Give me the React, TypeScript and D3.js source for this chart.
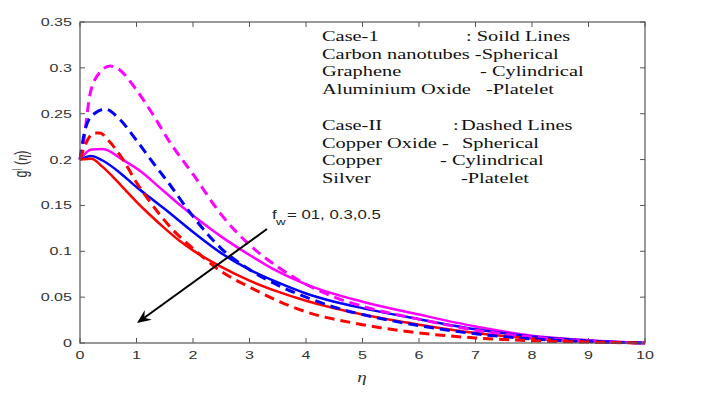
import React from "react";
import * as d3 from "d3";

const xTicks = [0, 1, 2, 3, 4, 5, 6, 7, 8, 9, 10];
const yTicks = [0, 0.05, 0.1, 0.15, 0.2, 0.25, 0.3, 0.35];
const yTickLabels = ["0", "0.05", "0.1", "0.15", "0.2", "0.25", "0.3", "0.35"];

// Case-1 (solid lines), f_w = 0.1, 0.3, 0.5
const solidMagenta: [number, number][] = [[0,0.2],[0.2,0.211],[0.4,0.2115],[0.75,0.2],[1.1,0.186],[1.4,0.170],[1.7,0.154],[2,0.139],[2.5,0.116],[3,0.096],[3.5,0.078],[4,0.064],[5,0.045],[6,0.031],[7,0.018],[8,0.008],[9,0.003],[10,0]];
const solidBlue: [number, number][] = [[0,0.2],[0.2,0.204],[0.4,0.199],[0.7,0.186],[1,0.170],[1.25,0.158],[1.5,0.146],[2,0.121],[2.5,0.098],[3,0.080],[3.5,0.066],[4,0.054],[4.5,0.045],[5,0.038],[6,0.026],[7,0.015],[8,0.007],[9,0.0025],[10,0]];
const solidRed: [number, number][] = [[0,0.2],[0.2,0.201],[0.4,0.192],[0.6,0.180],[0.8,0.167],[1,0.154],[1.25,0.139],[1.5,0.125],[1.75,0.112],[2,0.101],[2.5,0.083],[3,0.068],[3.5,0.056],[4,0.046],[5,0.031],[6,0.020],[7,0.011],[8,0.005],[9,0.0015],[10,0]];

// Case-II (dashed lines), f_w = 0.1, 0.3, 0.5
const dashedMagenta: [number, number][] = [[0,0.2],[0.06,0.218],[0.18,0.272],[0.35,0.295],[0.53,0.302],[0.7,0.298],[0.95,0.28],[1.25,0.253],[1.6,0.218],[2,0.184],[2.5,0.14],[3,0.107],[3.5,0.083],[4,0.064],[4.5,0.050],[5,0.040],[6,0.026],[7,0.014],[8,0.0065],[9,0.002],[10,0]];
const dashedBlue: [number, number][] = [[0,0.2],[0.1,0.235],[0.25,0.25],[0.45,0.255],[0.7,0.244],[1,0.221],[1.3,0.196],[1.55,0.176],[2,0.138],[2.5,0.103],[3,0.080],[3.5,0.063],[4,0.050],[4.5,0.039],[5,0.031],[6,0.019],[7,0.010],[8,0.0045],[9,0.0015],[10,0]];
const dashedRed: [number, number][] = [[0,0.2],[0.1,0.217],[0.25,0.229],[0.35,0.229],[0.5,0.221],[0.75,0.201],[1,0.175],[1.25,0.153],[1.65,0.123],[2,0.103],[2.5,0.078],[3,0.061],[3.5,0.046],[4,0.034],[5,0.020],[6,0.011],[7,0.0055],[8,0.0025],[9,0.001],[10,0]];

const solidSeries = [
  { data: solidMagenta, color: "#ff00ff" },
  { data: solidBlue, color: "#0000ff" },
  { data: solidRed, color: "#ff0000" },
];
const dashedSeries = [
  { data: dashedMagenta, color: "#ff00ff" },
  { data: dashedBlue, color: "#0000ff" },
  { data: dashedRed, color: "#ff0000" },
];

const W = 710, H = 396;
const left = 80, right = 645, top = 22, bottom = 343;
const SANS = "'Liberation Sans', Arial, sans-serif";
const SERIF = "'Liberation Serif', 'Times New Roman', serif";
const SX = 1.4;
const SXS = 1.36;

function SText(props: { x: number; y: number; anchor?: string; size: number; family: string; sx: number; fill?: string; children: any; italic?: boolean }) {
  const { x, y, anchor = "start", size, family, sx, fill = "#222", children, italic } = props;
  return (
    <g transform={`translate(${x},${y}) scale(${sx},1)`}>
      <text textAnchor={anchor} fontSize={size} fontFamily={family} fill={fill} fontStyle={italic ? "italic" : "normal"}>
        {children}
      </text>
    </g>
  );
}

export default function App() {
  const x = d3.scaleLinear().domain([0, 10]).range([left, right]);
  const y = d3.scaleLinear().domain([0, 0.35]).range([bottom, top]);
  const line = d3.line<[number, number]>().x((d) => x(d[0])).y((d) => y(d[1])).curve(d3.curveMonotoneX);

  const axisColor = "#555";
  const tl = 5;

  // arrow
  const ax1 = 267, ay1 = 229, ax2 = 137, ay2 = 323;
  const dx = ax2 - ax1, dy = ay2 - ay1;
  const len = Math.hypot(dx, dy);
  const ux = dx / len, uy = dy / len;
  const px = -uy, py = ux;
  const hl = 14, hw = 6, notch = 9;
  const head = `M${ax2},${ay2} L${ax2 - ux * hl + px * hw},${ay2 - uy * hl + py * hw} L${ax2 - ux * notch},${ay2 - uy * notch} L${ax2 - ux * hl - px * hw},${ay2 - uy * hl - py * hw} Z`;

  const legendLines: { y: number; runs: [number, string][] }[] = [
    { y: 41, runs: [[322, "Case-1"], [466, ": Soild Lines"]] },
    { y: 58.5, runs: [[322, "Carbon nanotubes -Spherical"]] },
    { y: 76, runs: [[322, "Graphene"], [480, "- Cylindrical"]] },
    { y: 94, runs: [[322, "Aluminium Oxide"], [486, "-Platelet"]] },
    { y: 130, runs: [[322, "Case-II"], [453, ":"], [461, "Dashed Lines"]] },
    { y: 147.5, runs: [[322, "Copper Oxide -"], [462, "Spherical"]] },
    { y: 165, runs: [[322, "Copper"], [440, "- Cylindrical"]] },
    { y: 182.5, runs: [[322, "Silver"], [461, "-Platelet"]] },
  ];

  return (
    <svg width={W} height={H} style={{ position: "absolute", left: 0, top: 0, background: "#fff" }}>
      <rect x={0} y={0} width={W} height={H} fill="#fff" />
      {/* ticks */}
      {xTicks.map((t) => (
        <g key={"xt" + t}>
          <line x1={x(t)} x2={x(t)} y1={bottom} y2={bottom - tl} stroke={axisColor} />
          <line x1={x(t)} x2={x(t)} y1={top} y2={top + tl} stroke={axisColor} />
          <SText x={x(t)} y={359} anchor="middle" size={11.5} family={SANS} sx={SX} fill="#333">{String(t)}</SText>
        </g>
      ))}
      {yTicks.map((t, i) => (
        <g key={"yt" + t}>
          <line x1={left} x2={left + tl} y1={y(t)} y2={y(t)} stroke={axisColor} />
          <line x1={right} x2={right - tl} y1={y(t)} y2={y(t)} stroke={axisColor} />
          <SText x={72} y={y(t) + 4} anchor="end" size={11.5} family={SANS} sx={SX} fill="#333">{yTickLabels[i]}</SText>
        </g>
      ))}
      {/* curves */}
      {solidSeries.map((s, i) => (
        <path key={"s" + i} d={line(s.data) || ""} fill="none" stroke={s.color} strokeWidth={2.5} />
      ))}
      {dashedSeries.map((s, i) => (
        <path key={"d" + i} d={line(s.data) || ""} fill="none" stroke={s.color} strokeWidth={3} strokeDasharray="10,6" />
      ))}
      {/* frame */}
      <rect x={left} y={top} width={right - left} height={bottom - top} fill="none" stroke={axisColor} strokeWidth={1.2} />
      {/* axis labels */}
      <SText x={362} y={382} anchor="middle" size={14} family={SERIF} sx={SXS} fill="#333" italic>η</SText>
      <g transform={`translate(27,164) scale(${SX},1) rotate(-90)`}>
        <text textAnchor="middle" fontSize={12.5} fontFamily={SANS} fill="#333">
          g<tspan dy={-5} fontSize={8}>|</tspan>
          <tspan dy={5}> (</tspan>
          <tspan fontFamily={SERIF} fontStyle="italic">η</tspan>)
        </text>
      </g>
      {/* legend text */}
      {legendLines.map((l, i) => (
        <g key={"lg" + i}>
          {l.runs.map((r, j) => (
            <SText key={j} x={r[0]} y={l.y} size={15} family={SERIF} sx={SXS} fill="#111">{r[1]}</SText>
          ))}
        </g>
      ))}
      {/* annotation */}
      <SText x={272} y={219} size={12} family={SANS} sx={SX} fill="#222">f</SText>
      <SText x={276} y={225} size={9.5} family={SANS} sx={SX} fill="#222">w</SText>
      <SText x={287} y={219} size={12} family={SANS} sx={SX} fill="#222">= 01, 0.3,0.5</SText>
      <line x1={ax1} y1={ay1} x2={ax2 - ux * notch} y2={ay2 - uy * notch} stroke="#000" strokeWidth={2} />
      <path d={head} fill="#000" />
    </svg>
  );
}
